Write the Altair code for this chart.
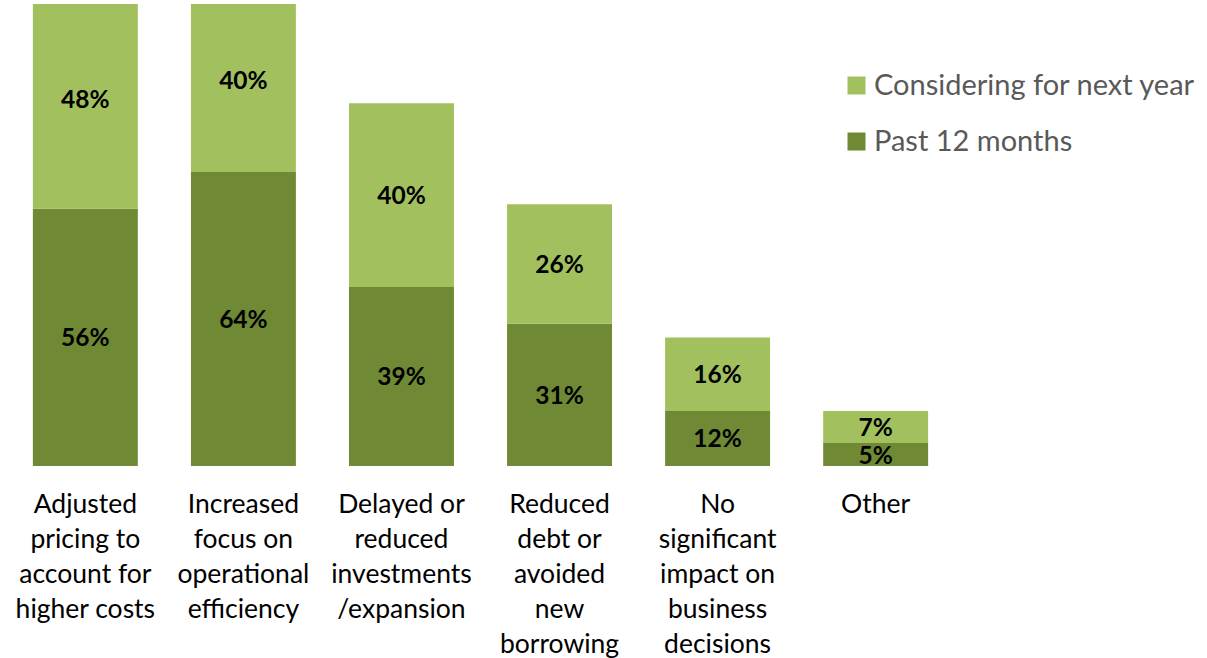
import altair as alt
import pandas as pd

categories = [
    "Adjusted\npricing to\naccount for\nhigher costs",
    "Increased\nfocus on\noperational\nefficiency",
    "Delayed or\nreduced\ninvestments\n/expansion",
    "Reduced\ndebt or\navoided\nnew\nborrowing",
    "No\nsignificant\nimpact on\nbusiness\ndecisions",
    "Other",
]
past_12_months = [56, 64, 39, 31, 12, 5]
considering_next_year = [48, 40, 40, 26, 16, 7]
series = ["Considering for next year", "Past 12 months"]
colors = ["#A2C05E", "#6F8935"]

rows = []
for c, p, n in zip(categories, past_12_months, considering_next_year):
    rows.append({"category": c, "series": "Past 12 months", "value": p, "ord": 0})
    rows.append({"category": c, "series": "Considering for next year", "value": n, "ord": 1})
df = pd.DataFrame(rows)

FONT = "Lato"

base = alt.Chart(df).transform_stack(
    stack="value", groupby=["category"], as_=["y0", "y1"],
    sort=[alt.SortField("ord", order="ascending")]
).transform_calculate(
    mid="(datum.y0 + datum.y1) / 2",
    lab="datum.value + '%'"
)

x_enc = alt.X(
    "category:N", sort=categories, title=None,
    scale=alt.Scale(paddingInner=0.336, paddingOuter=0.17),
    axis=alt.Axis(
        labelExpr="split(datum.label, '\\n')",
        labelFont=FONT, labelFontSize=26.5, labelColor="#000000",
        labelLineHeight=35, labelAngle=0, labelPadding=25,
        labelBaseline="top", labelLimit=400,
        domain=False, ticks=False, grid=False,
    ),
)
y_scale = alt.Scale(domain=[0, 100.6], nice=False)

bars = base.mark_bar(clip=True).encode(
    x=x_enc,
    y=alt.Y("y0:Q", scale=y_scale, axis=None),
    y2="y1:Q",
    color=alt.Color(
        "series:N",
        scale=alt.Scale(domain=series, range=colors),
        legend=alt.Legend(
            title=None, orient="none", legendX=836, legendY=67,
            symbolType="square", symbolSize=324, symbolStrokeWidth=0,
            labelFont=FONT, labelFontSize=29, labelColor="#595959",
            labelOffset=3, rowPadding=26, labelLimit=400,
        ),
    ),
)

text = base.mark_text(
    font=FONT, fontSize=24.5, fontWeight="bold", color="#000000",
    baseline="middle", dy=2
).encode(
    x=alt.X("category:N", sort=categories),
    y=alt.Y("mid:Q", scale=y_scale),
    text="lab:N",
)

chart = alt.layer(bars, text).properties(
    width=949, height=462,
    autosize=alt.AutoSizeParams(type="none"),
    padding={"left": 6, "top": 4, "right": 252, "bottom": 192},
).configure(background="#ffffff").configure_view(stroke="transparent", strokeWidth=0)

chart.save("out.html", embed_options={"renderer": "svg", "actions": False})
